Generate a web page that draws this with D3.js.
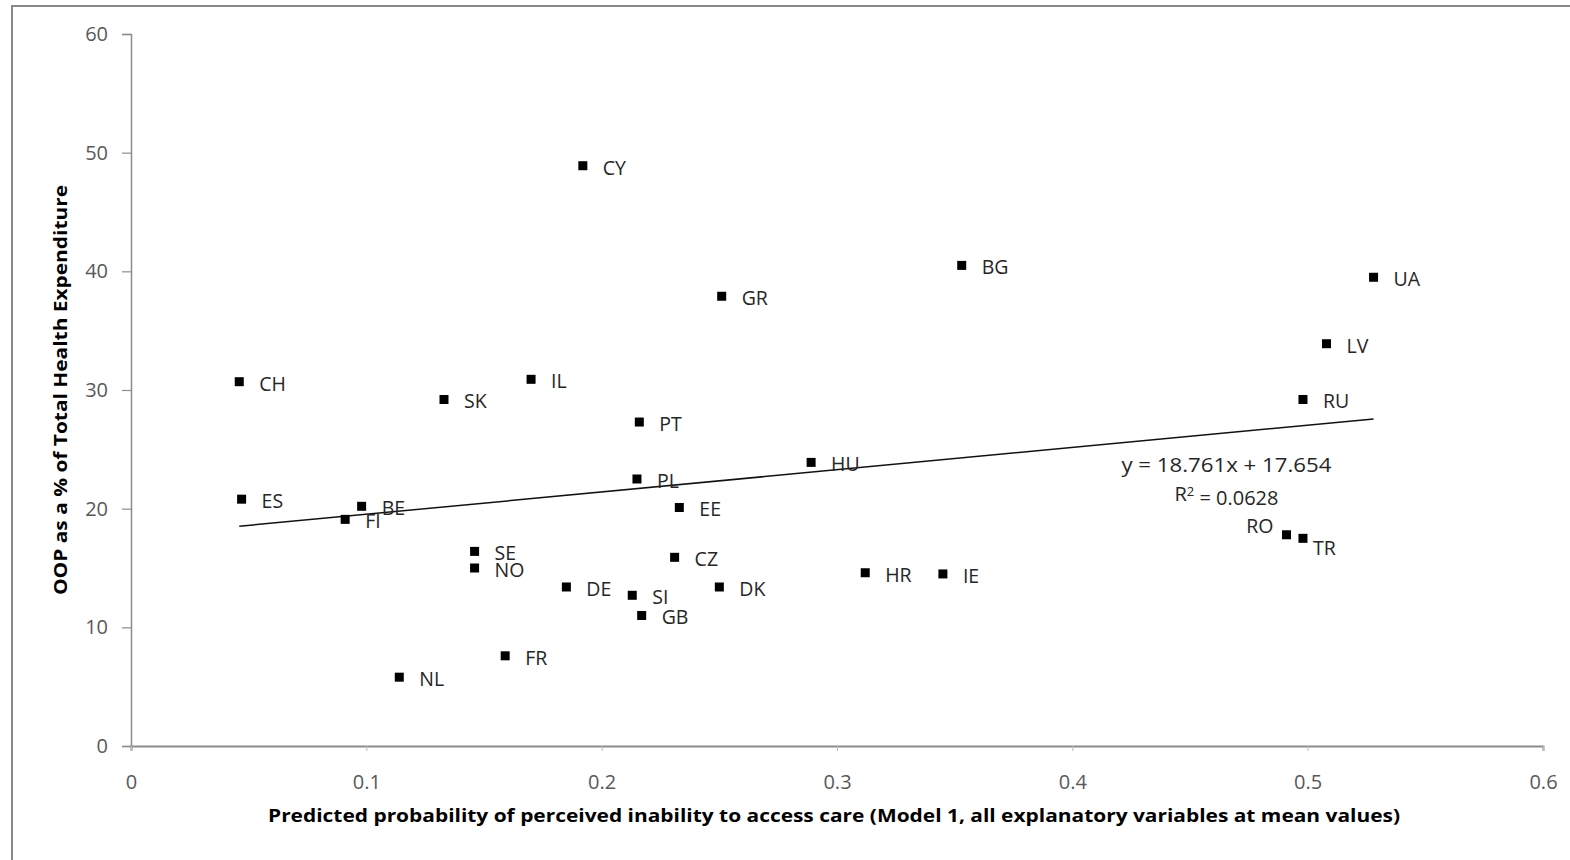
<!DOCTYPE html>
<html lang="en">
	<head>
		<meta charset="utf-8">
		<title>OOP vs predicted probability</title>
		<style>
			body { margin: 0; background: #fff; }
			svg text { font-family: "Open Sans", sans-serif; }
			.tick text { fill: #595959; font-size: 20px; }
			.pt-label { fill: #262626; font-size: 19.5px; }
			.axis-title { font-weight: bold; fill: #000; font-size: 18px; }
			.eq { fill: #262626; font-size: 20px; }
		</style>
	</head>
	<body>
		<svg class="chart" width="1570" height="860"></svg>
		<script src="https://d3js.org/d3.v7.min.js"></script>
		<script type="text/javascript">

			// countries and their values
			var countries = ["CY", "BG", "UA", "GR", "LV", "CH", "IL", "SK", "RU", "PT",
				"HU", "PL", "ES", "BE", "EE", "FI", "RO", "TR", "SE", "NO",
				"CZ", "HR", "IE", "DE", "DK", "SI", "GB", "FR", "NL"];
			var prob = [0.192, 0.353, 0.528, 0.251, 0.508, 0.046, 0.170, 0.133, 0.498, 0.216,
				0.289, 0.215, 0.047, 0.098, 0.233, 0.091, 0.491, 0.498, 0.146, 0.146,
				0.231, 0.312, 0.345, 0.185, 0.250, 0.213, 0.217, 0.159, 0.114];
			var oop = [48.9, 40.5, 39.5, 37.9, 33.9, 30.7, 30.9, 29.2, 29.2, 27.3,
				23.9, 22.5, 20.8, 20.2, 20.1, 19.1, 17.8, 17.5, 16.4, 15.0,
				15.9, 14.6, 14.5, 13.4, 13.4, 12.7, 11.0, 7.6, 5.8];

			var xTicks = [0, 0.1, 0.2, 0.3, 0.4, 0.5, 0.6],
				yTicks = [0, 10, 20, 30, 40, 50, 60];

			// linear trend as printed on the chart
			var trendSlope = 18.761,
				trendIntercept = 17.654,
				rSquared = "0.0628";

			var xTitle = "Predicted probability of perceived inability to access care (Model 1, all explanatory variables at mean values)",
				yTitle = "OOP as a % of Total Health Expenditure";

			// a few labels were nudged by hand in the original
			var labelNudge = {
				RO: { dx: -13, dy: -9, anchor: "end" },
				TR: { dx: 10, dy: 10 }
			};

			var margin = { left: 131, right: 27, top: 34, bottom: 114 },
				W = 1570, H = 860;

			var svg = d3.select(".chart");

			// outer frame (only top + left edge visible)
			svg.append("line").attr("x1", 12).attr("x2", 1570).attr("y1", 6).attr("y2", 6)
				.attr("stroke", "#888").attr("stroke-width", 2);
			svg.append("line").attr("x1", 12).attr("x2", 12).attr("y1", 5).attr("y2", 860)
				.attr("stroke", "#888").attr("stroke-width", 2);

			var x = d3.scaleLinear().domain([0, 0.6]).range([margin.left, W - margin.right]);
			var y = d3.scaleLinear().domain([0, 60]).range([H - margin.bottom, margin.top]);

			// y axis
			var yAxis = svg.append("g")
				.attr("transform", "translate(" + margin.left + ",0)")
				.call(d3.axisLeft(y).tickValues(yTicks).tickSize(9).tickPadding(14));
			yAxis.select(".domain").attr("stroke", "#8c8c8c").attr("stroke-width", 1.5);
			yAxis.selectAll(".tick line").attr("stroke", "#8c8c8c").attr("stroke-width", 1.2);

			// x axis
			var xAxis = svg.append("g")
				.attr("transform", "translate(0," + (H - margin.bottom) + ")")
				.call(d3.axisBottom(x).tickValues(xTicks).tickSize(5).tickPadding(24)
					.tickFormat(function(d) { return d === 0 ? "0" : d3.format(".1f")(d); }));
			xAxis.select(".domain").attr("stroke", "#8c8c8c").attr("stroke-width", 2);
			xAxis.selectAll(".tick line").attr("stroke", "#bbb");

			// trend line, over the range of the data
			var xr = d3.extent(prob);
			svg.append("line")
				.attr("x1", x(xr[0])).attr("y1", y(trendSlope * xr[0] + trendIntercept))
				.attr("x2", x(xr[1])).attr("y2", y(trendSlope * xr[1] + trendIntercept))
				.attr("stroke", "#111").attr("stroke-width", 1.5);

			var pts = countries.map(function(c, i) { return { c: c, x: prob[i], y: oop[i] }; });

			// the square markers
			svg.selectAll("rect.pt")
				.data(pts)
				.enter().append("rect")
				.attr("class", "pt")
				.attr("x", function(d) { return x(d.x) - 4.5; })
				.attr("y", function(d) { return y(d.y) - 4.5; })
				.attr("width", 9)
				.attr("height", 9)
				.attr("fill", "#000");

			// country labels
			svg.selectAll("text.pt-label")
				.data(pts)
				.enter().append("text")
				.attr("class", "pt-label")
				.attr("x", function(d) { return x(d.x) + (labelNudge[d.c] ? labelNudge[d.c].dx : 20); })
				.attr("y", function(d) { return y(d.y) + (labelNudge[d.c] ? labelNudge[d.c].dy : 2); })
				.attr("dy", ".35em")
				.attr("text-anchor", function(d) { return labelNudge[d.c] && labelNudge[d.c].anchor ? labelNudge[d.c].anchor : "start"; })
				.text(function(d) { return d.c; });

			// trend equation
			var eq = svg.append("text").attr("class", "eq")
				.attr("x", x(0.4655)).attr("y", y(23.7))
				.attr("text-anchor", "middle").attr("dy", ".35em")
				.attr("textLength", 210).attr("lengthAdjust", "spacingAndGlyphs");
			eq.text("y = " + trendSlope + "x + " + trendIntercept);
			var r2 = svg.append("text").attr("class", "eq")
				.attr("x", x(0.4655)).attr("y", y(21.2))
				.attr("text-anchor", "middle").attr("dy", ".35em");
			r2.append("tspan").text("R");
			r2.append("tspan").attr("dy", "-0.45em").style("font-size", "13px").text("2");
			r2.append("tspan").attr("dy", "0.45em").text(" = " + rSquared);

			// axis titles
			svg.append("text").attr("class", "axis-title")
				.attr("x", 834).attr("y", 822)
				.attr("text-anchor", "middle")
				.attr("textLength", 1132).attr("lengthAdjust", "spacingAndGlyphs")
				.text(xTitle);

			svg.append("text").attr("class", "axis-title")
				.attr("transform", "translate(67,390) rotate(-90)")
				.attr("text-anchor", "middle")
				.attr("textLength", 410).attr("lengthAdjust", "spacingAndGlyphs")
				.text(yTitle);

		</script>
	</body>
</html>
